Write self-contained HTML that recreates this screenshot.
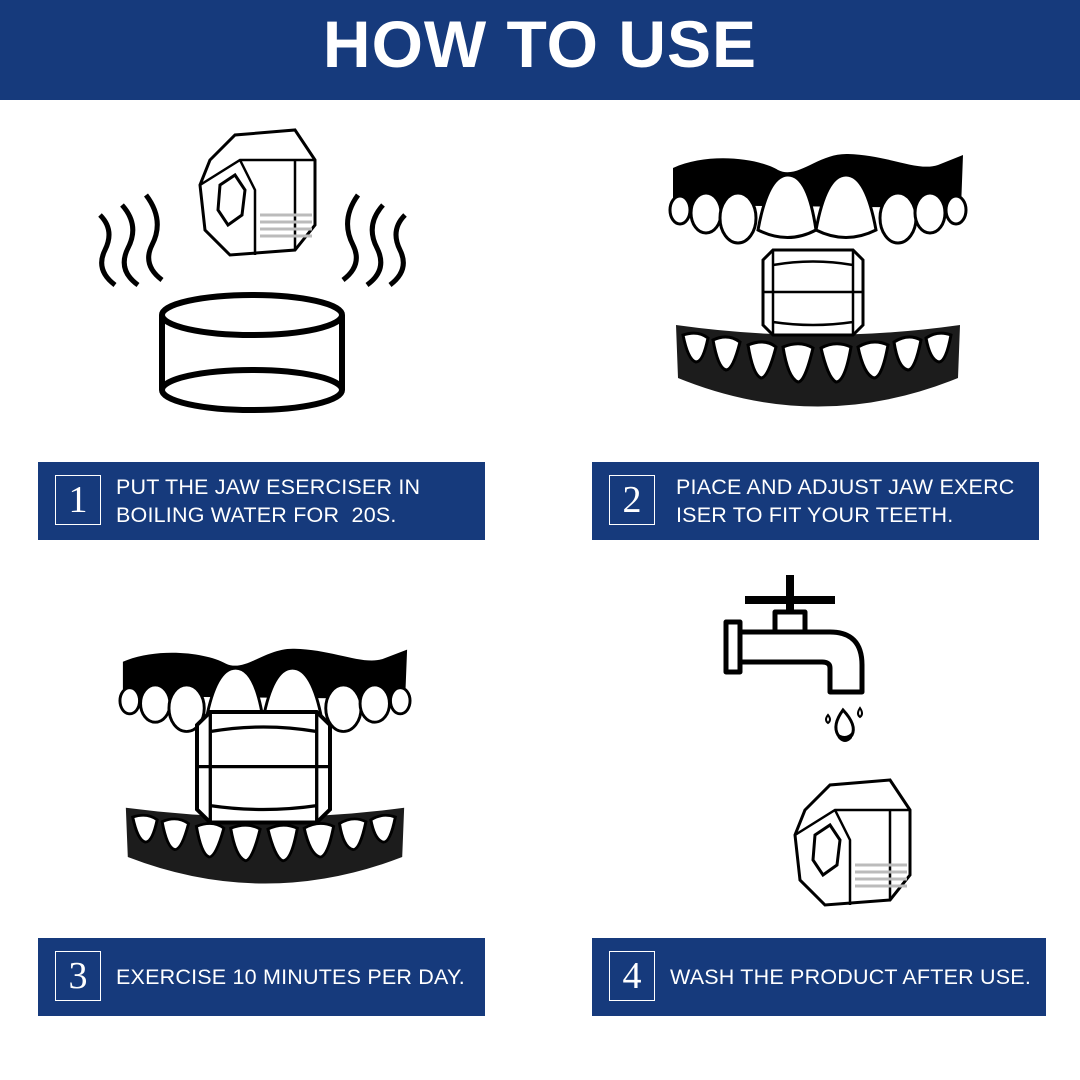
<!DOCTYPE html>
<html><head><meta charset="utf-8"><style>
body{margin:0;width:1080px;height:1080px;background:#fff;position:relative;overflow:hidden;font-family:"Liberation Sans",sans-serif}
.hdr{position:absolute;left:0;top:0;width:1080px;height:100px;background:#163a7c;color:#fff;font-weight:bold;font-size:66px;text-align:center;line-height:88px;letter-spacing:1px}
.box{position:absolute;background:#163a7c;color:#fff;height:78px}
.num{position:absolute;left:17px;top:13px;width:44px;height:48px;border:1.5px solid #fff;font-family:"Liberation Serif",serif;font-size:38px;text-align:center;line-height:48px}
.txt{position:absolute;left:78px;font-size:21.5px;line-height:28px;letter-spacing:0.2px}
svg{position:absolute;left:0;top:0}
</style></head><body>
<div class="hdr">HOW TO USE</div>
<div class="box" style="left:38px;top:462px;width:447px"><div class="num">1</div><div class="txt" style="top:11px">PUT THE JAW ESERCISER IN<br>BOILING WATER FOR &nbsp;20S.</div></div>
<div class="box" style="left:592px;top:462px;width:447px"><div class="num">2</div><div class="txt" style="top:11px;left:84px">PIACE AND ADJUST JAW EXERC<br>ISER TO FIT YOUR TEETH.</div></div>
<div class="box" style="left:38px;top:938px;width:447px"><div class="num">3</div><div class="txt" style="top:25px">EXERCISE 10 MINUTES PER DAY.</div></div>
<div class="box" style="left:592px;top:938px;width:454px"><div class="num">4</div><div class="txt" style="top:25px">WASH THE PRODUCT AFTER USE.</div></div>
<svg width="1080" height="1080" viewBox="0 0 1080 1080">
<defs>
<g id="jaw">
<path d="M5,18 C40,2 90,8 110,20 C130,30 150,3 180,4 C220,5 250,22 270,15 L295,5 L293,58 L5,55 Z" fill="#000"/>
<g fill="#fff" stroke="#000" stroke-width="3">
<ellipse cx="12" cy="60" rx="10" ry="14"/><ellipse cx="38" cy="63" rx="15" ry="20"/><ellipse cx="70" cy="68" rx="18" ry="25"/>
<path d="M90,80 Q100,25 120,25 Q140,25 148,80 Q120,95 90,80Z"/><path d="M148,80 Q158,25 178,25 Q198,25 208,80 Q178,95 148,80Z"/>
<ellipse cx="230" cy="68" rx="18" ry="25"/><ellipse cx="262" cy="63" rx="15" ry="20"/><ellipse cx="288" cy="60" rx="10" ry="14"/>
</g>
<path d="M8,175 Q150,195 292,175 L290,228 Q150,285 10,228 Z" fill="#1c1c1c"/>
<g fill="#fff" stroke="#000" stroke-width="3">
<path d="M15,185 Q30,180 40,188 Q35,212 28,212 Q20,210 15,185Z"/>
<path d="M45,190 Q60,183 72,192 Q65,220 58,220 Q50,218 45,190Z"/>
<path d="M80,195 Q97,188 108,197 Q100,228 93,228 Q85,225 80,195Z"/>
<path d="M115,197 Q132,190 145,198 Q137,232 130,232 Q120,228 115,197Z"/>
<path d="M153,198 Q168,190 183,197 Q177,232 168,232 Q160,228 153,198Z"/>
<path d="M190,197 Q205,188 220,195 Q214,228 206,228 Q196,225 190,197Z"/>
<path d="M226,192 Q240,183 253,190 Q247,220 240,220 Q230,218 226,192Z"/>
<path d="M258,188 Q270,180 283,185 Q278,212 271,212 Q262,210 258,188Z"/>
</g>
</g>
<g id="block">
<path d="M0,10 L10,0 L90,0 L100,10 L100,75 L90,85 L10,85 L0,75Z" fill="#fff" stroke="#000" stroke-width="3"/>
<path d="M10,0 L10,85 M90,0 L90,85 M0,42 L100,42 M10,15 Q50,8 90,15 M10,72 Q50,78 90,72" fill="none" stroke="#000" stroke-width="2.5"/>
</g>
<g id="cube">
<path d="M10,30 L35,5 L95,0 L115,30 L115,95 L95,120 L30,125 L5,100 L0,55Z" fill="#fff" stroke="#000" stroke-width="3"/>
<path d="M0,55 L40,30 L95,30 L115,30 M40,30 L55,60 L55,125 M95,30 L95,120" fill="none" stroke="#000" stroke-width="2.5"/>
<path d="M20,55 L35,45 L45,60 L42,85 L28,95 L18,80Z" fill="#fff" stroke="#000" stroke-width="3"/>
<path d="M60,85 L112,85 M60,92 L112,92 M60,99 L112,99 M60,106 L112,106" stroke="#bbb" stroke-width="3"/>
</g>
</defs>
<!-- step1 -->
<g transform="translate(200,130)"><use href="#cube"/></g>
<ellipse cx="252" cy="315" rx="90" ry="20" fill="none" stroke="#000" stroke-width="6"/>
<path d="M162,315 L162,390 M342,315 L342,390" stroke="#000" stroke-width="6"/>
<ellipse cx="252" cy="390" rx="90" ry="20" fill="none" stroke="#000" stroke-width="6"/>
<g fill="none" stroke="#000" stroke-width="5">
<path d="M100,215 Q115,230 105,250 Q95,270 115,285"/><path d="M122,205 Q140,225 128,248 Q117,270 138,285"/><path d="M146,195 Q165,220 152,245 Q142,265 162,280"/>
<path d="M405,215 Q390,230 400,250 Q410,270 390,285"/><path d="M383,205 Q365,225 377,248 Q388,270 367,285"/><path d="M358,195 Q340,220 353,245 Q363,265 343,280"/>
</g>
<!-- step2 -->
<g transform="translate(668,150)"><use href="#jaw"/></g>
<g transform="translate(763,250)"><use href="#block"/></g>
<!-- step3 -->
<g transform="translate(118,645) scale(0.98,0.93)"><use href="#jaw"/></g>
<g transform="translate(197,712) scale(1.33,1.3)"><use href="#block"/></g>
<!-- step4 -->
<g fill="#fff" stroke="#000" stroke-width="5" stroke-linejoin="round">
<rect x="726" y="622" width="14" height="50"/>
<path d="M740,632 L830,632 Q862,632 862,665 L862,692 L830,692 L830,668 Q830,662 822,662 L740,662Z"/>
<rect x="775" y="612" width="30" height="20"/>
<path d="M745,600 L835,600 M790,575 L790,612" stroke-width="8"/>
</g>
<path d="M843,710 Q832,725 838,735 Q845,745 852,735 Q857,725 843,710Z" fill="#fff" stroke="#000" stroke-width="3"/>
<path d="M836,732 Q845,740 852,732 L852,738 Q845,746 838,738Z" fill="#000"/>
<path d="M828,715 Q824,720 828,723 Q832,720 828,715Z M860,708 Q856,714 860,717 Q864,714 860,708Z" fill="#fff" stroke="#000" stroke-width="2"/>
<g transform="translate(795,780)"><use href="#cube"/></g>
</svg>
</body></html>
